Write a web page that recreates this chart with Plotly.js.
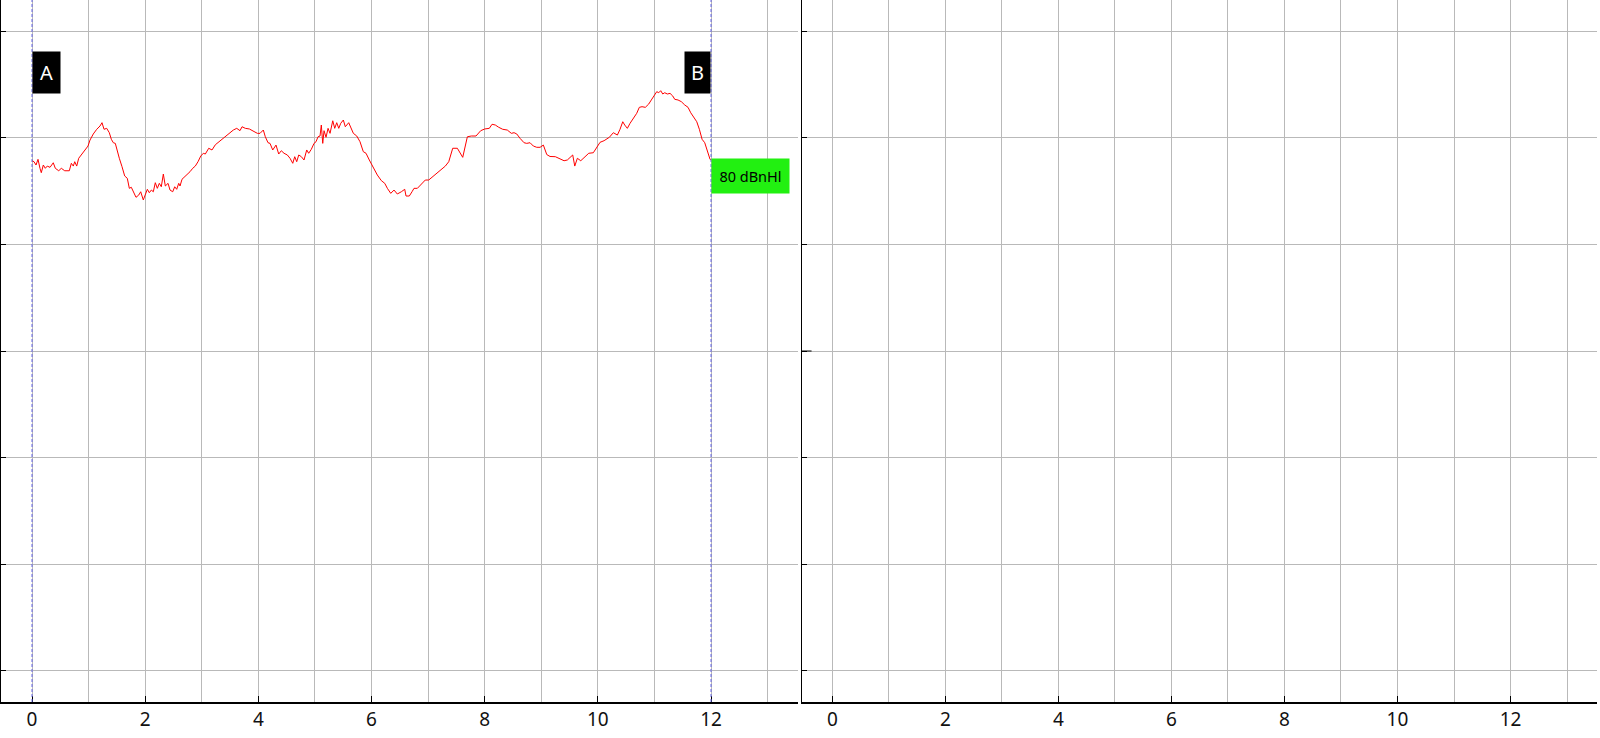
<!DOCTYPE html>
<html>
<head>
<meta charset="utf-8">
<script src="https://cdn.plot.ly/plotly-3.0.1.min.js"></script>
<style>html,body{margin:0;padding:0;background:#fff;}#chart{width:1600px;height:738px;}</style>
</head>
<body>
<div id="chart"></div>
<script>
// Waveform (time in ms, amplitude in grid units)
const waveX = [0,0.035,0.071,0.106,0.141,0.164,0.200,0.235,0.270,0.318,0.376,0.412,0.472,0.518,0.578,0.659,0.695,0.730,0.755,0.790,0.825,0.884,0.942,0.990,1.025,1.083,1.144,1.202,1.237,1.273,1.320,1.366,1.402,1.437,1.472,1.508,1.543,1.591,1.638,1.684,1.720,1.755,1.803,1.838,1.886,1.921,1.967,2.002,2.038,2.073,2.109,2.144,2.179,2.215,2.250,2.285,2.321,2.356,2.404,2.439,2.487,2.522,2.557,2.593,2.616,2.651,2.699,2.745,2.792,2.840,2.886,2.934,2.982,3.028,3.063,
3.123,3.181,3.240,3.323,3.406,3.487,3.558,3.618,3.676,3.712,3.770,3.841,3.911,3.982,4.030,4.088,4.123,4.171,4.206,4.254,4.312,4.360,4.406,4.454,4.512,4.560,4.608,4.643,4.678,4.714,4.760,4.807,4.855,4.890,4.936,4.984,5.019,5.055,5.090,5.113,5.138,5.161,5.196,5.232,5.267,5.315,5.350,5.385,5.421,5.456,5.502,5.537,5.597,5.633,5.679,5.739,5.797,5.855,5.903,5.961,6.032,
6.103,6.174,6.234,6.280,6.340,6.398,6.456,6.527,6.587,6.610,6.668,6.716,6.751,6.810,6.880,6.951,7.011,7.082,7.153,7.234,7.305,7.365,7.435,7.517,7.565,7.612,7.694,7.764,7.847,7.930,8.001,8.082,8.130,8.188,8.248,8.319,8.400,8.471,8.519,8.567,8.625,8.696,8.743,8.802,8.860,8.920,8.979,
9.037,9.097,9.155,9.249,9.332,9.403,9.461,9.521,9.556,9.592,9.638,9.698,9.768,9.839,9.920,9.991,10.039,10.110,10.203,10.274,10.345,10.392,10.440,10.475,10.521,10.569,10.627,10.687,10.733,10.781,10.839,10.899,10.945,10.993,11.041,11.076,11.111,11.147,11.182,11.228,11.276,11.324,11.359,11.417,11.476,11.536,11.594,11.642,11.700,11.748,11.794,11.842,11.889,11.935,11.983,12.0];
const waveY = [1.785,1.776,1.745,1.798,1.714,1.673,1.745,1.714,1.735,1.723,1.766,1.714,1.691,1.714,1.691,1.691,1.761,1.735,1.776,1.735,1.808,1.848,1.886,1.923,1.979,2.036,2.080,2.111,2.142,2.080,2.089,2.048,1.986,1.954,1.948,1.870,1.808,1.729,1.642,1.620,1.526,1.536,1.485,1.442,1.463,1.494,1.417,1.463,1.517,1.485,1.510,1.494,1.579,1.526,1.573,1.541,1.660,1.548,1.573,1.510,1.494,1.541,1.517,1.573,1.548,1.611,1.635,1.651,1.682,1.714,1.735,1.776,1.829,1.855,1.848,
1.902,1.886,1.935,1.973,2.010,2.048,2.073,2.089,2.067,2.104,2.089,2.083,2.064,2.042,2.042,2.073,2.010,1.954,1.948,1.886,1.932,1.848,1.879,1.855,1.839,1.808,1.761,1.823,1.776,1.839,1.823,1.792,1.886,1.855,1.892,1.948,1.963,2.010,2.017,2.120,1.948,2.067,2.005,2.089,2.042,2.160,2.089,2.142,2.089,2.136,2.167,2.104,2.142,2.089,2.042,2.017,1.963,1.870,1.855,1.792,1.723,
1.651,1.598,1.573,1.526,1.479,1.510,1.473,1.494,1.517,1.454,1.454,1.494,1.526,1.526,1.567,1.604,1.604,1.635,1.673,1.705,1.735,1.776,1.902,1.902,1.855,1.817,2.010,2.017,2.017,2.067,2.083,2.089,2.127,2.120,2.099,2.080,2.073,2.042,2.048,2.036,1.995,1.954,1.948,1.954,1.923,1.911,1.911,
1.932,1.843,1.825,1.823,1.804,1.785,1.792,1.817,1.839,1.735,1.808,1.785,1.817,1.855,1.860,1.917,1.958,1.973,2.005,2.048,2.026,2.080,2.151,2.120,2.089,2.136,2.183,2.230,2.286,2.292,2.286,2.317,2.355,2.392,2.433,2.423,2.442,2.411,2.423,2.411,2.417,2.392,2.361,2.355,2.339,2.308,2.286,2.235,2.183,2.151,2.080,1.986,1.954,1.870,1.798,1.792];

// Cursor markers and labels
const cursorXs = [0, 12];
const cursorLabels = ["A", "B"];
const levelLabel = "80 dBnHl";
const levelY = 1.808;
const cursorBoxTop = 2.814;

// Axis tick values
const xTickVals = [0, 2, 4, 6, 8, 10, 12];
const yGridVals = [-3, -2, -1, 0, 1, 2, 3];

const gridColor = '#b9b9b9';
const tickFont = {family: 'Noto Sans, Open Sans, sans-serif', size: 19, color: '#111'};

function xAxis(domain, range) {
  return {
    domain: domain, range: range, autorange: false,
    tickmode: 'array', tickvals: xTickVals, ticktext: xTickVals.map(String),
    ticks: 'inside', ticklen: 6, tickcolor: '#000', tickwidth: 1,
    showgrid: true, gridcolor: gridColor, gridwidth: 1,
    minor: {dtick: 1, tick0: 0, showgrid: true, gridcolor: gridColor, gridwidth: 1, ticks: ''},
    showline: true, linecolor: '#000', linewidth: 1.5,
    zeroline: false, tickfont: tickFont, fixedrange: true
  };
}
function yAxis(anchor) {
  return {
    anchor: anchor, domain: [0, 1], range: [-3.293, 3.293], autorange: false,
    tickmode: 'array', tickvals: yGridVals, showticklabels: false,
    ticks: 'inside', ticklen: 5, tickcolor: '#000', tickwidth: 1,
    showgrid: true, gridcolor: gridColor, gridwidth: 1,
    showline: true, linecolor: '#000', linewidth: 1.5, zeroline: false, fixedrange: true
  };
}

const traces = [
  {x: waveX, y: waveY, xaxis: 'x', yaxis: 'y', type: 'scatter', mode: 'lines',
   line: {color: '#ff0000', width: 1}, hoverinfo: 'skip'},
  {x: [], y: [], xaxis: 'x2', yaxis: 'y2', type: 'scatter', mode: 'lines'}
];

const shapes = cursorXs.map(cx => ({
  type: 'line', xref: 'x', yref: 'y domain', x0: cx, x1: cx, y0: 0, y1: 1,
  line: {color: '#6464e6', width: 1, dash: '3px,2px'}
}));
shapes.push({type: 'line', xref: 'x2 domain', yref: 'y2', x0: 0, x1: 0.012, y0: 0, y1: 0,
  line: {color: '#000', width: 1}});

const annotations = [
  {xref: 'x', yref: 'y', x: cursorXs[0], y: cursorBoxTop, xanchor: 'left', yanchor: 'top',
   text: cursorLabels[0], showarrow: false, bgcolor: '#000', width: 27, height: 41, borderpad: 0,
   font: {family: 'Noto Sans, Open Sans, sans-serif', size: 20, color: '#fff'}},
  {xref: 'x', yref: 'y', x: cursorXs[1], y: cursorBoxTop, xanchor: 'right', yanchor: 'top',
   text: cursorLabels[1], showarrow: false, bgcolor: '#000', width: 25, height: 41, borderpad: 0,
   font: {family: 'Noto Sans, Open Sans, sans-serif', size: 20, color: '#fff'}},
  {xref: 'x', yref: 'y', x: cursorXs[1], y: levelY, xanchor: 'left', yanchor: 'top',
   text: levelLabel, showarrow: false, bgcolor: '#22f011', width: 77, height: 34, borderpad: 0,
   font: {family: 'Noto Sans, Open Sans, sans-serif', size: 14.5, color: '#000'}}
];

const layout = {
  width: 1600, height: 738,
  margin: {l: 1, r: 3, t: 0, b: 36, pad: 0},
  paper_bgcolor: '#fff', plot_bgcolor: '#fff',
  showlegend: false,
  xaxis: xAxis([0, 0.4994], [-0.548, 13.538]),
  yaxis: yAxis('x'),
  xaxis2: Object.assign(xAxis([0.5019, 1], [-0.536, 13.53]), {anchor: 'y2'}),
  yaxis2: yAxis('x2'),
  shapes: shapes,
  annotations: annotations
};

Plotly.newPlot('chart', traces, layout, {displayModeBar: false, staticPlot: true});
</script>
</body>
</html>
